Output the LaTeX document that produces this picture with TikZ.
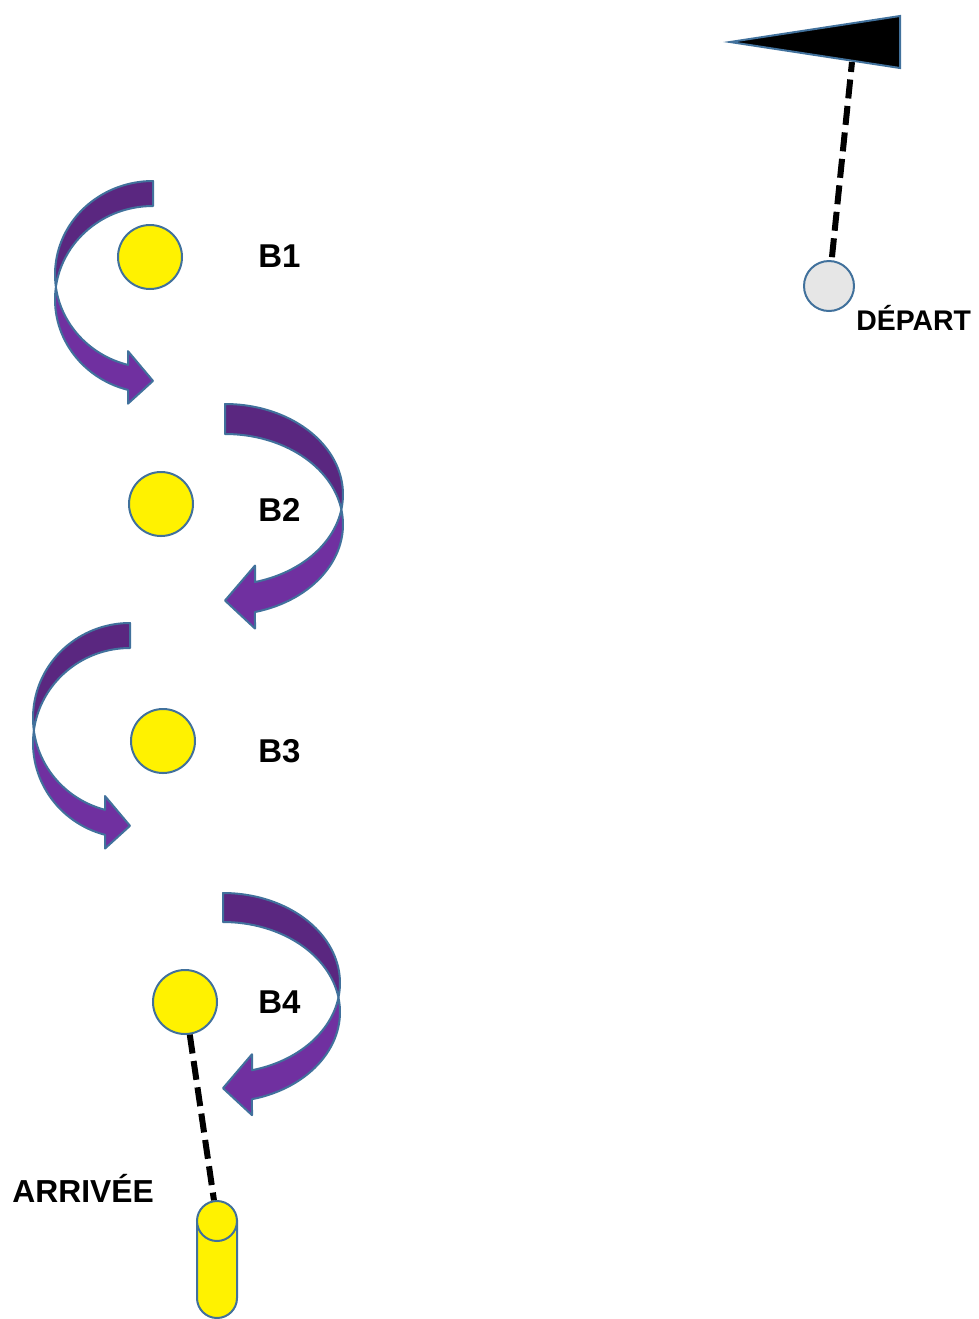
\documentclass[tikz,border=0pt]{standalone}
\usepackage{fontspec}
\setmainfont{Liberation Sans}
\definecolor{rim}{HTML}{41719C}
\definecolor{purpledark}{HTML}{5A2780}
\definecolor{purplelight}{HTML}{7030A0}
\definecolor{startgray}{HTML}{E6E6E6}

% curved arrow: top (x,y), side (+1 right, -1 left), width, thickness, radius
\newcommand{\bendarrow}[6]{%
  \pgfmathsetmacro\aphi{acos(#5/#4)}
  \pgfmathsetmacro\across{asin(#5/(2*#6))}
  \pgfmathsetmacro\acx{#4*cos(\across)}
  \pgfmathsetmacro\acy{#6+#5/2}
  \pgfmathsetmacro\aup{#6*(1+sin(\aphi))}
  \pgfmathsetmacro\alow{\aup+#5}
  \pgfmathsetmacro\aext{0.55*#5}
  \pgfmathsetmacro\atip{\aup+#5/2+3.5}
  \begin{scope}[shift={(#1,#2)}, xscale=#3]
    \filldraw[fill=purpledark, draw=rim, line width=1pt, line join=round]
      (0,0) arc[start angle=-90, end angle=\across, x radius=#4, y radius=#6]
      arc[start angle=-\across, end angle=-90, x radius=#4, y radius=#6] -- cycle;
    \filldraw[fill=purplelight, draw=rim, line width=1pt, line join=round]
      (\acx,\acy) arc[start angle=-\across, end angle=\aphi, x radius=#4, y radius=#6]
      -- (#5,\alow+\aext) -- (0,\atip) -- (#5,\aup-\aext) -- (#5,\aup)
      arc[start angle=\aphi, end angle=\across, x radius=#4, y radius=#6] -- cycle;
  \end{scope}}

\begin{document}
\begin{tikzpicture}[x=0.5pt, y=-0.5pt,
    ball/.style={circle, draw=rim, fill=yellow, line width=1pt, inner sep=0pt, minimum size=32pt},
    label/.style={anchor=base west, inner sep=0pt, font=\fontsize{16.5}{18}\selectfont\bfseries},
    pole/.style={line width=3pt, dash pattern=on 9.5pt off 3.8pt}]
    \useasboundingbox (0,0) rectangle (979,1319);

    % start flag
    \coordinate (flagfoot) at (852,62);
    \node[circle, draw=rim, fill=startgray, line width=1pt, inner sep=0pt, minimum size=25pt] (depart) at (829,286) {};
    \draw[pole, dash phase=4.5pt] (flagfoot) -- (depart);
    \filldraw[fill=black, draw=rim, line width=1pt] (730,42) -- (900,16) -- (900,68) -- cycle;
    \node[anchor=base west, inner sep=0pt, font=\fontsize{14.2}{16}\selectfont\bfseries] (departlbl) at (856,330) {DÉPART};

    % the four balls
    \node[ball] (b1) at (150,257) {};
    \node[label] (b1lbl) at (258,267) {B1};
    \node[ball] (b2) at (161,504) {};
    \node[label] (b2lbl) at (258,521) {B2};
    \node[ball] (b3) at (163,741) {};
    \node[label] (b3lbl) at (258,762) {B3};
    \node[ball] (b4) at (185,1002) {};
    \node[label] (b4lbl) at (258,1013) {B4};

    % turning arrows
    \bendarrow{153}{181}{-1}{98}{25}{93.5}
    \bendarrow{225}{404}{1}{118}{30}{90.5}
    \bendarrow{130}{623}{-1}{97}{25}{95}
    \bendarrow{223}{893}{1}{117}{29}{90}

    % finish
    \filldraw[fill=yellow, draw=rim, line width=1pt] (197,1221) -- (197,1298)
      arc[start angle=180, end angle=0, x radius=20, y radius=20] -- (237,1221) -- cycle;
    \node[circle, draw=rim, fill=yellow, line width=1pt, inner sep=0pt, minimum size=20pt] (goal) at (217,1221) {};
    \draw[pole] (b4) -- (goal);
    \node[anchor=base west, inner sep=0pt, font=\fontsize{15.9}{18}\selectfont\bfseries] (arrlbl) at (12,1202) {ARRIVÉE};
\end{tikzpicture}
\end{document}
